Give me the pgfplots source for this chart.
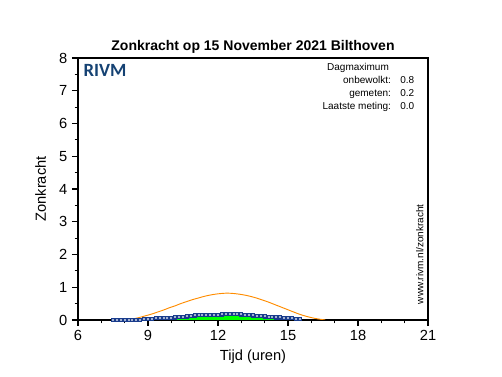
\documentclass[border=0pt]{standalone}
\usepackage{pgfplots}
\pgfplotsset{compat=1.18}
\usepackage{fontspec}
\setmainfont{Liberation Sans}
\newfontfamily\rivmfont{Carlito}
\definecolor{clearsky}{RGB}{255,140,0}
\definecolor{meas}{RGB}{25,60,140}
\definecolor{rivmblue}{RGB}{21,66,115}
\begin{document}
\begin{tikzpicture}[x=1pt,y=1pt]
\useasboundingbox (-58.5,-42.75) rectangle (318,240);
\begin{axis}[
  at={(0,0)}, anchor=south west,
  width=262.5pt, height=196.5pt, scale only axis,
  xmin=6, xmax=21, ymin=0, ymax=8,
  xtick={6,9,12,15,18,21},
  minor x tick num=2,
  ytick={0,1,2,3,4,5,6,7,8},
  minor y tick num=1,
  tick align=outside,
  xtick pos=left, ytick pos=left,
  major tick length=4.5pt, minor tick length=2.5pt,
  tick style={black, thick},
  axis line style={black, thick},
  tick label style={font=\fontsize{11}{13}\selectfont},
  /pgf/number format/assume math mode=true,
  xlabel={Tijd (uren)}, ylabel={Zonkracht},
  label style={font=\fontsize{11}{13}\selectfont},
  xlabel style={yshift=0pt},
  ylabel style={yshift=3pt},
  title={\bfseries Zonkracht op 15 November 2021 Bilthoven},
  title style={font=\fontsize{10.5}{12}\selectfont, yshift=-6pt},
  clip=true,
]
% measured (area)
\addplot[draw=none, fill=green, fill opacity=1] coordinates {
(7.50,0) (7.67,0) (7.83,0) (8.00,0) (8.17,0) (8.33,0) (8.50,0.01) (8.67,0.01) (8.83,0.02)
(9.00,0.03) (9.17,0.04) (9.33,0.05) (9.50,0.06) (9.67,0.06) (9.83,0.07) (10.00,0.07)
(10.17,0.08) (10.33,0.09) (10.50,0.10) (10.67,0.11) (10.83,0.12) (11.00,0.14) (11.17,0.15)
(11.33,0.16) (11.50,0.16) (11.67,0.16) (11.83,0.16) (12.00,0.16) (12.17,0.17) (12.33,0.18)
(12.50,0.19) (12.67,0.19) (12.83,0.18) (13.00,0.17) (13.17,0.16) (13.33,0.15) (13.50,0.14)
(13.67,0.13) (13.83,0.12) (14.00,0.11) (14.17,0.10) (14.33,0.09) (14.50,0.08) (14.67,0.08)
(14.83,0.07) (15.00,0.06) (15.17,0.05) (15.33,0.04) (15.50,0.03)
} \closedcycle;
\addplot[meas, thick, mark=square*, mark size=1.2pt, mark options={solid, fill=meas!40, draw=meas}] coordinates {
(7.50,0) (7.67,0) (7.83,0) (8.00,0) (8.17,0) (8.33,0) (8.50,0.01) (8.67,0.01) (8.83,0.02)
(9.00,0.03) (9.17,0.04) (9.33,0.05) (9.50,0.06) (9.67,0.06) (9.83,0.07) (10.00,0.07)
(10.17,0.08) (10.33,0.09) (10.50,0.10) (10.67,0.11) (10.83,0.12) (11.00,0.14) (11.17,0.15)
(11.33,0.16) (11.50,0.16) (11.67,0.16) (11.83,0.16) (12.00,0.16) (12.17,0.17) (12.33,0.18)
(12.50,0.19) (12.67,0.19) (12.83,0.18) (13.00,0.17) (13.17,0.16) (13.33,0.15) (13.50,0.14)
(13.67,0.13) (13.83,0.12) (14.00,0.11) (14.17,0.10) (14.33,0.09) (14.50,0.08) (14.67,0.08)
(14.83,0.07) (15.00,0.06) (15.17,0.05) (15.33,0.04) (15.50,0.03)
};
% clear sky
\addplot[clearsky, line width=0.7pt, smooth] coordinates {
(8.00,0) (8.15,0.01) (8.40,0.04) (8.65,0.08) (8.90,0.13) (9.15,0.18) (9.40,0.24)
(9.65,0.30) (9.90,0.37) (10.15,0.43) (10.40,0.50) (10.65,0.56) (10.90,0.62)
(11.15,0.67) (11.40,0.72) (11.65,0.76) (11.90,0.79) (12.15,0.81) (12.40,0.82)
(12.65,0.81) (12.90,0.79) (13.15,0.76) (13.40,0.72) (13.65,0.67) (13.90,0.61)
(14.15,0.55) (14.40,0.48) (14.65,0.41) (14.90,0.34) (15.15,0.27) (15.40,0.20)
(15.65,0.14) (15.90,0.09) (16.15,0.05) (16.40,0.02) (16.60,0)
};
\node[anchor=north west, font=\rivmfont\bfseries\fontsize{14}{16}\selectfont, text=rivmblue, inner sep=0pt] at (rel axis cs:0.015,0.975) {RIVM};
\node[anchor=north, font=\fontsize{7.5}{9}\selectfont, inner sep=0pt] at (rel axis cs:0.80,0.98) {Dagmaximum};
\node[anchor=north east, font=\fontsize{7.5}{9}\selectfont, inner sep=0pt, align=right] at (rel axis cs:0.895,0.93) {onbewolkt:\\[0.8pt] gemeten:\\[0.8pt] Laatste meting:};
\node[anchor=north west, font=\fontsize{7.5}{9}\selectfont, inner sep=0pt, align=left] at (rel axis cs:0.92,0.93) {0.8\\[0.8pt] 0.2\\[0.8pt] 0.0};
\node[rotate=90, anchor=south west, font=\fontsize{7.5}{9}\selectfont, inner sep=0pt] at (rel axis cs:0.988,0.06) {www.rivm.nl/zonkracht};
\end{axis}
\end{tikzpicture}
\end{document}
